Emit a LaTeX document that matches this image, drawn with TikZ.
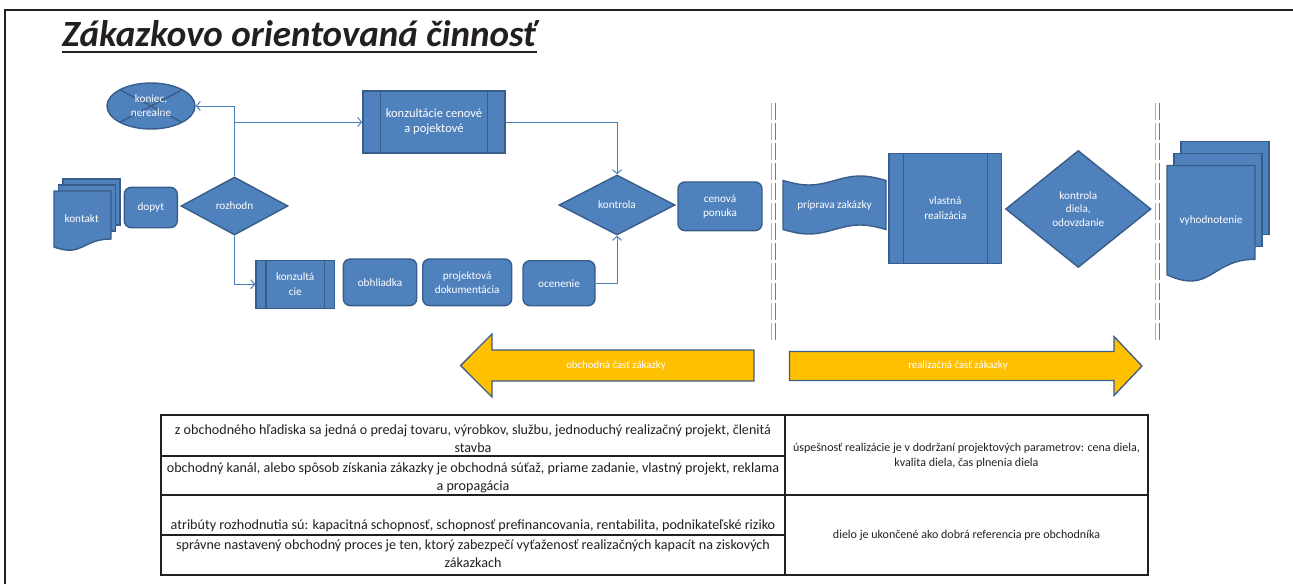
\documentclass[tikz,border=0pt]{standalone}
\usepackage{fontspec}
\setmainfont{Carlito}
\usepackage{tikz}
\usetikzlibrary{arrows.meta,calc,shapes.geometric}
\definecolor{FlowBlue}{RGB}{79,129,189}
\definecolor{EdgeBlue}{RGB}{56,93,138}
\definecolor{LineBlue}{RGB}{74,126,187}
\definecolor{PaleBlue}{RGB}{149,179,215}
\definecolor{Amber}{RGB}{255,192,0}
\definecolor{Ink}{RGB}{35,31,32}

\begin{document}
\begin{tikzpicture}[x=1pt,y=-1pt,
  flow/.style={draw=EdgeBlue,fill=FlowBlue,line width=1.4pt,text=white,align=center,inner sep=0pt,font=\fontsize{11.2}{13.8}\selectfont},
  rbox/.style={flow,rectangle,rounded corners=7pt},
  pbox/.style={flow,rectangle},
  dbox/.style={flow,diamond},
  sheet/.style={draw=EdgeBlue,fill=FlowBlue,line width=1.4pt},
  doclbl/.style={text=white,inner sep=0pt,font=\fontsize{11.2}{13.8}\selectfont},
  conn/.style={LineBlue,line width=1pt,-{Straight Barb[length=4pt,width=9pt]}},
  band/.style={fill=Amber,draw=EdgeBlue,line width=1.3pt},
  bandlbl/.style={text=white,inner sep=0pt,font=\fontsize{10.8}{13}\selectfont},
  tabline/.style={Ink,line width=1.8pt},
  cell/.style={text=Ink,align=center,inner sep=0pt,font=\fontsize{14.1}{18}\selectfont},
  cellr/.style={cell,font=\fontsize{12}{15}\selectfont}]
\useasboundingbox (0,0) rectangle (1293,584);
% frame and title
\draw[Ink,line width=2.2pt] (5,584) -- (5,10) -- (1293,10);
\node[anchor=base west,inner sep=0pt,text=Ink,font=\fontsize{37}{43}\selectfont\bfseries\itshape] (title) at (62,46.5) {Zákazkovo orientovaná činnosť};
\draw[Ink,line width=2.2pt] ([yshift=-5.5pt]title.base west) -- ([yshift=-5.5pt]title.base east);

% phase separators
\foreach \sx in {773.5,1157.5}{
\draw[PaleBlue,line width=1.6pt,dash pattern=on 16.5pt off 3.5pt] (\sx-2,103) -- (\sx-2,343);
\draw[FlowBlue,line width=1.6pt,dash pattern=on 16.5pt off 3.5pt] (\sx+1.8,103) -- (\sx+1.8,343);}

% documents
\foreach \dx/\dy in {9/-12,4.5/-6}{\draw[sheet] (54+\dx,191+\dy) rectangle ++(57,46);}
\draw[sheet] (54,191) -- (111,191) -- (111,239) .. controls (82.5,239) and (82.5,257.4) .. (54,247) -- cycle;
\node[doclbl] (kontakt) at (81.7,219) {kontakt};
\foreach \dx/\dy in {14/-24,7/-12}{\draw[sheet] (1167+\dx,165.5+\dy) rectangle ++(88,93);}
\draw[sheet] (1167,165.5) -- (1255,165.5) -- (1255,259.3) .. controls (1211,259.3) and (1211,295) .. (1167,274.8) -- cycle;
\node[doclbl] (vyhodn) at (1211,221) {vyhodnotenie};

% punched tape
\draw[sheet] (783,180.5) sin (808.75,185) cos (834.5,180.5) sin (860.25,176) cos (886,180.5) -- (886,229.5)
  sin (860.25,225) cos (834.5,229.5) sin (808.75,234) cos (783,229.5) -- cycle;
\node[doclbl] (priprava) at (834.5,206) {príprava zakázky};

% end state
\node[flow,ellipse,minimum width=88pt,minimum height=46pt,
  path picture={\draw[EdgeBlue,line width=1.4pt] (path picture bounding box.north west) -- (path picture bounding box.south east)
  (path picture bounding box.north east) -- (path picture bounding box.south west);}] (koniec) at (151,106) {koniec,\\nerealne};

\foreach \n/\x/\y/\w/\h/\lbl in {dopyt/150.8/207.5/53/40.4/dopyt,ponuka/720/206.3/84/48.7/{cenová\\ponuka},
  obhliadka/380/282.3/73.4/46.7/obhliadka,dokum/467.2/282.3/89/46.7/{projektová\\dokumentácia},ocenenie/559/283.2/72/45/ocenenie}
  \node[rbox,minimum width=\w pt,minimum height=\h pt] (\n) at (\x,\y) {\lbl};

\foreach \n/\x/\y/\w/\h/\s/\fs/\lbl in {konzcen/434/122/142/62/18/12.5/{konzultácie cenové\\a pojektové},
  konzcie/295.2/284.3/78.3/48/10.5/11.2/{konzultá\\cie},realiz/945.3/208.5/112.5/110/15/11.2/{vlastná\\realizácia}}{
  \node[pbox,minimum width=\w pt,minimum height=\h pt,font=\fontsize{\fs}{15}\selectfont] (\n) at (\x,\y) {\lbl};
  \draw[EdgeBlue,line width=1.4pt] ([xshift=\s pt]\n.north west) -- ([xshift=\s pt]\n.south west)
    ([xshift=-\s pt]\n.north east) -- ([xshift=-\s pt]\n.south east);}

\foreach \n/\x/\y/\w/\h/\lbl in {rozhodn/234.5/206/107/58/rozhodn,kontrola/617/205/116/60/kontrola,
  odovzd/1078.3/209/145.4/117/{kontrola\\diela,\\odovzdanie}}
  \node[dbox,minimum width=\w pt,minimum height=\h pt] (\n) at (\x,\y) {\lbl};

\draw[conn] (rozhodn.north) |- (koniec.east);
\draw[conn] (rozhodn.north |- konzcen.west) -- (konzcen.west);
\draw[conn] (konzcen.east) -| (kontrola.north);
\draw[conn] (rozhodn.south) |- (konzcie.west);
\draw[conn] (ocenenie.east) -| (kontrola.south);

% parts of the order
\draw[band] (460.6,365.5) -- (492,334) -- (492,350) -- (754,350) -- (754,381) -- (492,381) -- (492,397) -- cycle;
\node[bandlbl] (obchcast) at (616,366) {obchodná časť zákazky};
\draw[band] (789.5,351.5) -- (1114,351.5) -- (1114,336.5) -- (1142,366) -- (1114,395.5) -- (1114,380.5) -- (789.5,380.5) -- cycle;
\node[bandlbl] (realcast) at (958,366) {realizačná časť zákazky};

% table
\draw[tabline] (160.7,415) rectangle (1148,575);
\draw[tabline] (785,415) -- (785,575) (160.7,455.7) -- (785,455.7) (160.7,495) -- (1148,495) (160.7,535) -- (785,535);
\node[cell] (c1) at (473,438.3) {z obchodného hľadiska sa jedná o predaj tovaru, výrobkov, službu, jednoduchý realizačný projekt, členitá\\stavba};
\node[cell] (c2) at (473,477.5) {obchodný kanál, alebo spôsob získania zákazky je obchodná súťaž, priame zadanie, vlastný projekt, reklama\\a propagácia};
\node[cell] (c3) at (473,525.7) {atribúty rozhodnutia sú: kapacitná schopnosť, schopnosť prefinancovania, rentabilita, podnikateľské riziko};
\node[cell] (c4) at (473,554) {správne nastavený obchodný proces je ten, ktorý zabezpečí vyťaženosť realizačných kapacít na ziskových\\zákazkach};
\node[cellr] (c5) at (966.5,456) {úspešnosť realizácie je v dodržaní projektových parametrov: cena diela,\\kvalita diela, čas plnenia diela};
\node[cellr] (c6) at (966.5,535) {dielo je ukončené ako dobrá referencia pre obchodníka};
\end{tikzpicture}
\end{document}
